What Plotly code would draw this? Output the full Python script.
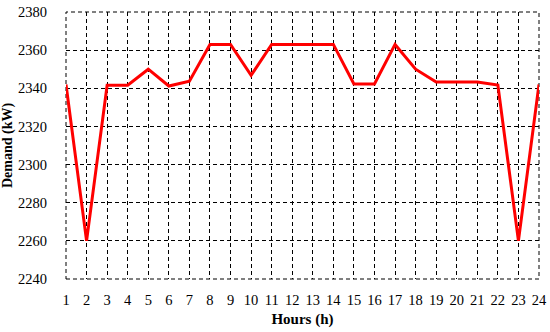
import plotly.graph_objects as go

# datos
horas = list(range(1, 25))
demanda = [2342, 2260, 2341.6, 2341.6, 2350, 2341.2, 2343.7, 2363, 2363, 2346.8,
           2363, 2363, 2363, 2363, 2342.3, 2342.3, 2363, 2350, 2343.3, 2343.3,
           2343.3, 2341.7, 2260, 2342]
y_ticks = [2240, 2260, 2280, 2300, 2320, 2340, 2360, 2380]

fuente = "Liberation Serif"
trazo = "4px,3px"

fig = go.Figure()
fig.add_trace(go.Scatter(x=horas, y=demanda, mode="lines",
                         line=dict(color="#ff0000", width=3)))

# marco punteado alrededor del area de trazado
fig.add_shape(type="rect", xref="x domain", yref="y domain",
              x0=0, x1=1, y0=0, y1=1, layer="below",
              line=dict(color="black", width=1, dash=trazo))

fig.update_layout(
    width=550, height=332,
    margin=dict(l=66, r=11, t=12, b=53, autoexpand=False),
    plot_bgcolor="white", paper_bgcolor="white",
    showlegend=False,
    font=dict(family=fuente, size=14.5, color="black"),
)
fig.update_xaxes(range=[1, 24], tickvals=horas, showgrid=True,
                 gridcolor="black", griddash=trazo, gridwidth=1,
                 zeroline=False, automargin=False,
                 ticks="outside", ticklen=8, tickcolor="rgba(0,0,0,0)",
                 title=dict(text="<b>Hours (h)</b>", standoff=6,
                            font=dict(family=fuente, size=15)))
fig.update_yaxes(range=[2240, 2380], tickvals=y_ticks, showgrid=True,
                 gridcolor="black", griddash=trazo, gridwidth=1,
                 zeroline=False, automargin=False,
                 ticks="outside", ticklen=15, tickcolor="rgba(0,0,0,0)",
                 title=dict(text="<b>Demand (kW)</b>", standoff=4,
                            font=dict(family=fuente, size=14)))

# quitar el margen por defecto del body para que la figura quede en (0,0)
fig.write_html("out.html", config={"displayModeBar": False},
               post_script="document.body.style.margin='0';")
